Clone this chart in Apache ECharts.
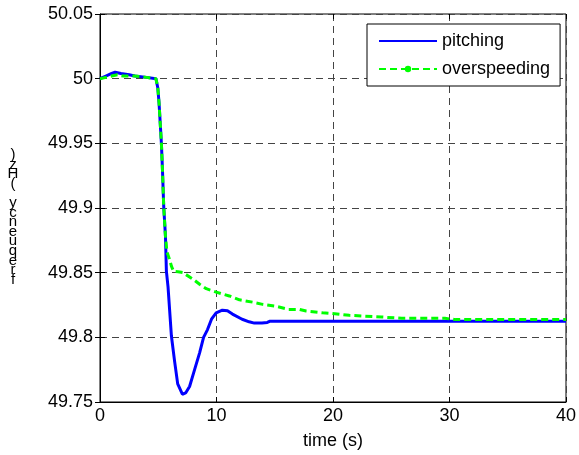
<!DOCTYPE html>
<html>
<head>
<meta charset="utf-8">
<script src="https://cdn.jsdelivr.net/npm/echarts@6/dist/echarts.min.js"></script>
<style>html,body{margin:0;padding:0;background:#fff}#c{width:579px;height:455px}</style>
</head>
<body>
<div id="c"></div>
<script>
const xTicks = [0, 10, 20, 30, 40];
const yTicks = [49.75, 49.8, 49.85, 49.9, 49.95, 50, 50.05];
const seriesNames = ['pitching', 'overspeeding'];
const pitchT = [0, 0.5, 1.0, 1.3, 1.8, 2.5, 3.0, 4.0, 4.8, 4.9, 4.96, 5.07, 5.27, 5.36, 5.47, 5.62, 5.70, 5.84, 6.13, 6.41, 6.67, 7.07, 7.35, 7.69, 8.12, 8.55, 8.89, 9.23, 9.57, 9.97, 10.5, 10.94, 11.37, 12.2, 12.8, 13.25, 13.9, 14.36, 14.6, 20, 30, 40];
const pitchF = [50.0, 50.002, 50.004, 50.005, 50.004, 50.003, 50.002, 50.001, 50.0, 50.0, 49.993, 49.981, 49.950, 49.930, 49.901, 49.878, 49.851, 49.839, 49.801, 49.781, 49.764, 49.756, 49.757, 49.762, 49.775, 49.788, 49.800, 49.806, 49.814, 49.819, 49.821, 49.8205, 49.818, 49.814, 49.812, 49.811, 49.811, 49.8115, 49.8125, 49.8125, 49.8125, 49.8125];
const overT = [0, 0.5, 1.0, 1.5, 2.0, 3.0, 4.0, 4.8, 4.9, 4.96, 5.07, 5.27, 5.36, 5.47, 5.62, 5.75, 5.98, 6.13, 6.32, 6.7, 7.12, 7.98, 8.55, 9.12, 9.97, 11.1, 11.97, 13.1, 13.96, 15.1, 16.2, 17.1, 17.7, 19.1, 19.9, 21.4, 24.2, 25.9, 29.6, 30.5, 35, 40];
const overF = [50.0, 50.001, 50.002, 50.003, 50.002, 50.002, 50.001, 50.0, 50.0, 49.993, 49.981, 49.950, 49.930, 49.901, 49.878, 49.866, 49.860, 49.855, 49.851, 49.8507, 49.850, 49.845, 49.841, 49.8376, 49.835, 49.832, 49.829, 49.8272, 49.8255, 49.824, 49.8216, 49.8216, 49.8203, 49.819, 49.8185, 49.817, 49.8157, 49.8147, 49.8147, 49.8137, 49.8137, 49.8137];

const pitchData = pitchT.map((t, i) => [t, pitchF[i]]);
const overData = overT.map((t, i) => [t, overF[i]]);
const font = 'Liberation Sans';
const yLabelChars = 'frequency (Hz)'.split('').reverse().join('\n');

const chart = echarts.init(document.getElementById('c'), null, {renderer: 'canvas'});
const tickStyle = {show: true, inside: true, length: 5, lineStyle: {color: '#000', width: 1}};
chart.setOption({
  animation: false,
  backgroundColor: '#fff',
  grid: {left: 100, right: 11, top: 14, bottom: 52, show: true, borderColor: '#000', borderWidth: 1, backgroundColor: 'transparent'},
  legend: {
    data: [
      {name: seriesNames[0], itemStyle: {opacity: 0}},
      {name: seriesNames[1]}
    ],
    orient: 'vertical', left: 367, top: 24, width: 193,
    padding: [8, 10, 8, 11], itemGap: 10,
    itemWidth: 58, itemHeight: 8,
    borderColor: '#000', borderWidth: 1, backgroundColor: '#fff',
    textStyle: {fontFamily: font, fontSize: 18, color: '#000', padding: [0, 28, 0, 0]}
  },
  xAxis: [{
    type: 'value', min: 0, max: 40, interval: 10,
    name: 'time (s)', nameLocation: 'middle', nameGap: 30,
    nameTextStyle: {fontFamily: font, fontSize: 18, color: '#000'},
    axisLine: {show: true, lineStyle: {color: '#000', width: 1}},
    axisTick: tickStyle,
    axisLabel: {fontFamily: font, fontSize: 18, color: '#000', margin: 5},
    splitLine: {show: true, lineStyle: {color: '#444', type: [7, 5], width: 1}}
  }, {
    type: 'value', min: 0, max: 40, interval: 10, position: 'top',
    axisLine: {show: false}, axisTick: tickStyle, axisLabel: {show: false}, splitLine: {show: false}
  }],
  yAxis: [{
    type: 'value', min: 49.75, max: 50.05, interval: 0.05,
    axisLine: {show: true, lineStyle: {color: '#000', width: 1}},
    axisTick: tickStyle,
    axisLabel: {fontFamily: font, fontSize: 18, color: '#000', margin: 7,
      formatter: v => String(parseFloat(v.toFixed(2)))},
    splitLine: {show: true, lineStyle: {color: '#444', type: [7, 5], width: 1}}
  }, {
    type: 'value', min: 49.75, max: 50.05, interval: 0.05, position: 'right',
    axisLine: {show: false}, axisTick: tickStyle, axisLabel: {show: false}, splitLine: {show: false}
  }],
  graphic: [{
    type: 'text', x: 13, y: 150, z: 10,
    style: {text: yLabelChars, fontFamily: font, fontSize: 15, lineHeight: 9.6, fill: '#000', textAlign: 'center', textVerticalAlign: 'top'}
  }],
  series: [{
    name: seriesNames[0], type: 'line', data: pitchData,
    symbol: 'none', smooth: false,
    lineStyle: {color: '#0000ff', width: 3},
    itemStyle: {color: '#0000ff'}, z: 3
  }, {
    name: seriesNames[1], type: 'line', data: overData,
    symbol: 'circle', symbolSize: 7, showSymbol: false,
    lineStyle: {color: '#00ff00', width: 3, type: [7, 4]},
    itemStyle: {color: '#00ff00'}, z: 4
  }]
});
</script>
</body>
</html>
